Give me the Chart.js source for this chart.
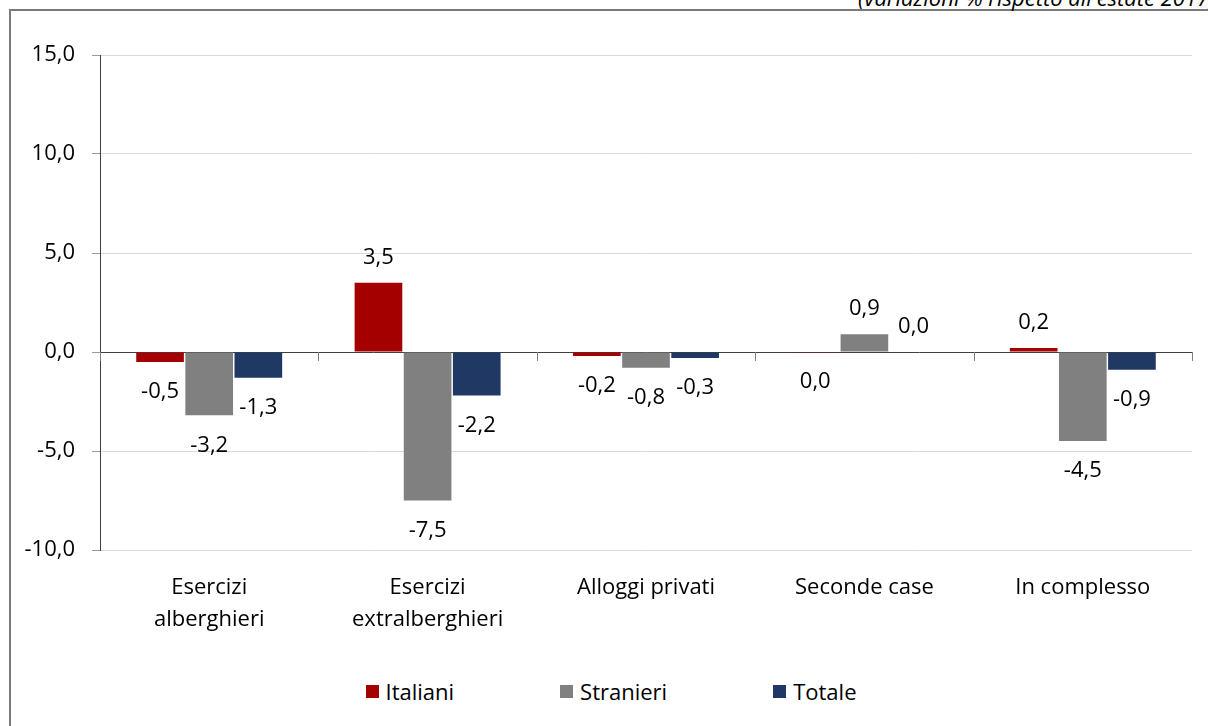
<!DOCTYPE html>
<html>
<head>
<meta charset="utf-8">
<script src="https://cdn.jsdelivr.net/npm/chart.js@4/dist/chart.umd.min.js"></script>
<style>
    html, body { margin: 0; padding: 0; background: #fff; overflow: hidden; }
    body { width: 1208px; height: 726px; position: relative; font-family: "Open Sans", sans-serif; }
    #frame { position: absolute; left: 9px; top: 9px; width: 1300px; height: 800px; border: 2px solid #7a7a7a; }
    #note { position: absolute; left: 858px; top: -14px; font-size: 22px; line-height: 22px; font-style: italic; white-space: nowrap; color: #000; }
    #chartBox { position: absolute; left: 0; top: 0; }
    #legend { position: absolute; left: 7px; width: 1208px; top: 676px; display: flex; justify-content: center; gap: 106px; font-size: 22px; line-height: 30px; color: #000; }
    .item { display: flex; align-items: center; }
    .swatch { width: 13px; height: 13px; margin-right: 7px; }
</style>
</head>
<body>
<div id="frame"></div>
<div id="note">(variazioni % rispetto all'estate 2017)</div>
<canvas id="chartBox" width="1208" height="650"></canvas>
<div id="legend"></div>

<script>
// Data
const categories = [
    ['Esercizi', 'alberghieri'],
    ['Esercizi', 'extralberghieri'],
    'Alloggi privati',
    'Seconde case',
    'In complesso'
];
const italiani  = [-0.5,  3.5, -0.2, -0.01,  0.2];
const stranieri = [-3.2, -7.5, -0.8,  0.9,  -4.5];
const totale    = [-1.3, -2.2, -0.3,  0.02, -0.9];
const yTicks = [-10, -5, 0, 5, 10, 15];

const FONT = '"Open Sans"';

function fmt(v) {
    if (Math.abs(v) < 0.05) v = 0;
    return v.toFixed(1).replace('.', ',');
}

// Value labels outside the bar end
const barLabels = {
    id: 'barLabels',
    afterDatasetsDraw(chart) {
        const ctx = chart.ctx;
        ctx.save();
        ctx.font = `22px ${FONT}`;
        ctx.fillStyle = '#000';
        ctx.textAlign = 'center';
        ctx.textBaseline = 'middle';
        chart.data.datasets.forEach((ds, di) => {
            chart.getDatasetMeta(di).data.forEach((bar, i) => {
                const v = ds.data[i];
                const y = v >= 0 ? bar.y - 25 : bar.y + 30;
                ctx.fillText(fmt(v), bar.x, y);
            });
        });
        ctx.restore();
    }
};

// Small tick marks on the zero line between categories
const zeroTicks = {
    id: 'zeroTicks',
    afterDraw(chart) {
        const x = chart.scales.x, y = chart.scales.y;
        const y0 = y.getPixelForValue(0);
        const n = categories.length;
        const ctx = chart.ctx;
        ctx.save();
        ctx.strokeStyle = '#7f7f7f';
        ctx.lineWidth = 1;
        for (let i = 0; i <= n; i++) {
            let px;
            if (i === 0) px = x.left;
            else if (i === n) px = x.right;
            else px = (x.getPixelForValue(i - 1) + x.getPixelForValue(i)) / 2;
            px = Math.round(px) + 0.5;
            ctx.beginPath();
            ctx.moveTo(px, y0);
            ctx.lineTo(px, y0 + 9);
            ctx.stroke();
        }
        ctx.restore();
    }
};

const chart = new Chart(document.getElementById('chartBox'), {
    type: 'bar',
    data: {
        labels: categories,
        datasets: [
            { label: 'Italiani',  data: italiani,  backgroundColor: '#a50000' },
            { label: 'Stranieri', data: stranieri, backgroundColor: '#808080' },
            { label: 'Totale',    data: totale,    backgroundColor: '#1f3864' }
        ]
    },
    options: {
        responsive: false,
        animation: false,
        layout: { padding: { top: 55, right: 16, left: 0, bottom: 0 } },
        datasets: {
            bar: { categoryPercentage: 0.675, barPercentage: 0.97 }
        },
        plugins: {
            legend: { display: false },
            tooltip: { enabled: false }
        },
        scales: {
            x: {
                grid: { display: false },
                border: { display: false },
                ticks: {
                    color: '#000',
                    padding: 14,
                    maxRotation: 0,
                    autoSkip: false,
                    font: { family: FONT, size: 22, lineHeight: 1.45 }
                },
                afterFit(scale) { scale.height = 100; }
            },
            y: {
                min: -10,
                max: 15,
                afterBuildTicks(scale) { scale.ticks = yTicks.map(v => ({ value: v })); },
                grid: {
                    color: c => c.tick && c.tick.value === 0 ? '#404040' : '#d9d9d9',
                    tickColor: '#9a9a9a',
                    tickLength: 8
                },
                border: { display: true, color: '#404040' },
                ticks: {
                    color: '#000',
                    padding: 17,
                    font: { family: FONT, size: 22 },
                    callback: v => fmt(v)
                },
                afterFit(scale) { scale.width = 100; }
            }
        }
    },
    plugins: [barLabels, zeroTicks]
});

// HTML legend built from the datasets
const legend = document.getElementById('legend');
chart.data.datasets.forEach(ds => {
    const item = document.createElement('div');
    item.className = 'item';
    item.innerHTML = `<span class="swatch" style="background:${ds.backgroundColor}"></span><span>${ds.label}</span>`;
    legend.appendChild(item);
});
</script>
</body>
</html>
